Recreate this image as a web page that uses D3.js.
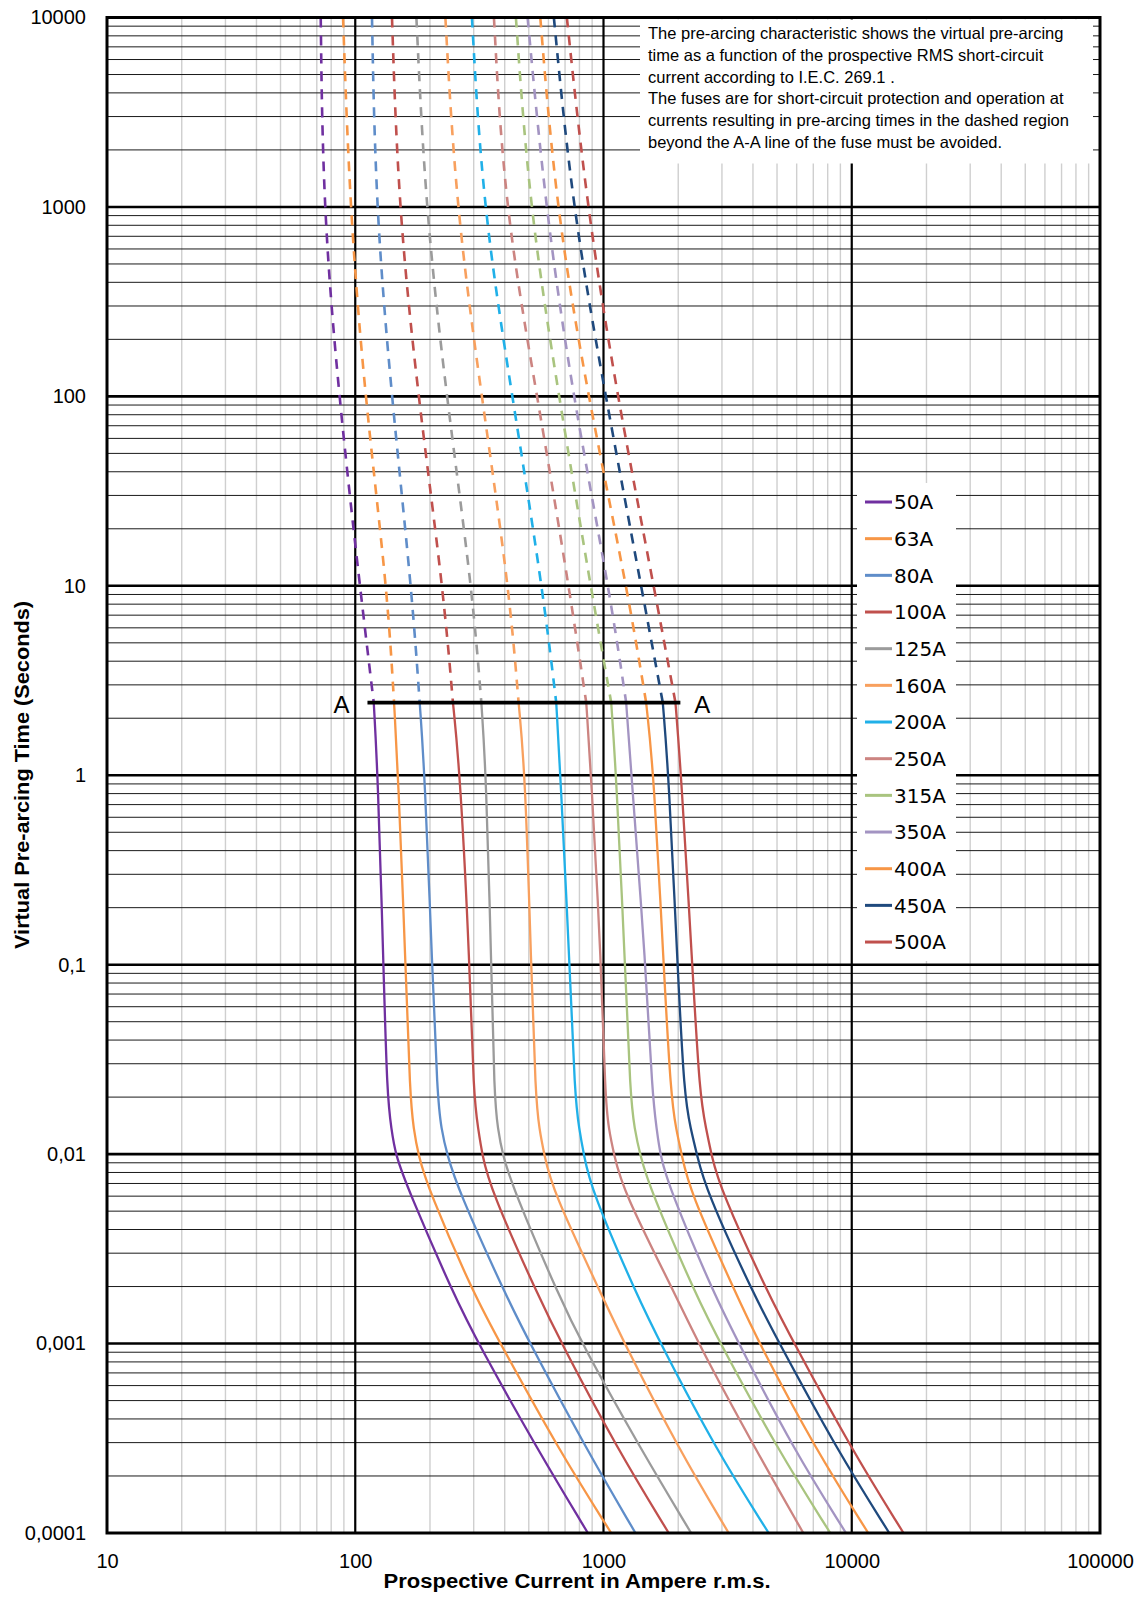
<!DOCTYPE html>
<html><head><meta charset="utf-8">
<script src="https://cdn.jsdelivr.net/npm/d3@7"></script>
<style>body{margin:0;background:#fff}</style>
</head><body>
<svg id="c" width="1141" height="1598"></svg>
<script>
// ---------- DATA ----------
const fuseNames = ["50A","63A","80A","100A","125A","160A","200A","250A","315A","350A","400A","450A","500A"];
const fuseColors = ["#7030a0","#f79646","#5f8dc9","#c0504d","#9b9b9b","#f8a05e","#20b0e8","#cc8481","#a9c47f","#a394c2","#f79646","#1f497d","#c0504d"];
// pre-arcing times (s) at which each curve was read
const timePoints = [10000, 1000, 100, 10, 2.42, 1, 0.1, 0.02, 0.0135, 0.01, 0.0065, 0.00178, 0.001, 0.000276, 0.0001];
// prospective current (A) for each fuse at those times
const i50A  = [72.6, 74.2, 85.8, 104.3, 118.7, 123.3, 129.9, 134.4, 140.0, 144.9, 163.3, 250.7, 313.2, 542, 865];
const i63A  = [89.3, 95.0, 109.2, 134.3, 143.3, 148.9, 159.5, 166.2, 172.0, 179.1, 197.2, 302.6, 384.7, 659, 1074];
const i80A  = [116.8, 120.9, 139.9, 168.4, 181.8, 190.6, 204.1, 214.2, 222.3, 234.1, 259.5, 405.2, 506, 855, 1345];
const i100A = [140.6, 149.2, 178.9, 225.6, 247.5, 264.8, 289.4, 299.6, 313.2, 324.1, 351.1, 546, 677.6, 1141, 1831];
const i125A = [176.3, 191.6, 232.8, 295.1, 322, 336.7, 353.3, 363, 375.6, 391.6, 434, 661.6, 817.9, 1416, 2254];
const i160A = [230.7, 254.5, 322.9, 415.9, 455, 484.1, 511.2, 532.5, 551.6, 576.7, 621.6, 988, 1214, 2015, 3193];
const i200A = [295.1, 326, 429.2, 566.8, 645, 670.6, 730.6, 766.6, 798.5, 832.5, 891.5, 1368, 1698, 2839, 4627];
const i250A = [361.9, 398.5, 541.1, 725.2, 852, 891.5, 980.6, 1015, 1050, 1102, 1193, 1962, 2409, 4098, 6380];
const i315A = [443.7, 502.3, 661, 886.6, 1074, 1125, 1222, 1282, 1335, 1401, 1543, 2367, 2957, 5034, 8194];
const i350A = [494.5, 582.6, 752.5, 1050, 1234, 1295, 1480, 1574, 1640, 1687, 1850, 2810, 3513, 5833, 9478];
const i400A = [556.3, 642.7, 864.8, 1241, 1485, 1597, 1746, 1869, 1962, 2064, 2211, 3451, 4241, 7163, 11650];
const i450A = [631, 748.3, 1019, 1418, 1733, 1831, 1987, 2114, 2250, 2376, 2580, 4056, 5117, 8710, 14160];
const i500A = [711.7, 856.8, 1135, 1594, 1949, 2056, 2279, 2441, 2597, 2715, 2959, 4652, 5870, 9991, 16160];
const seriesCurrents = [i50A, i63A, i80A, i100A, i125A, i160A, i200A, i250A, i315A, i350A, i400A, i450A, i500A];

const aaTime = 2.42;            // A-A line time
const aaCurrents = [112, 2040]; // A-A line extent (A)

const xTickValues = [10, 100, 1000, 10000, 100000];
const xTickLabels = ["10", "100", "1000", "10000", "100000"];
const yTickValues = [10000, 1000, 100, 10, 1, 0.1, 0.01, 0.001, 0.0001];
const yTickLabels = ["10000", "1000", "100", "10", "1", "0,1", "0,01", "0,001", "0,0001"];

const xTitle = "Prospective Current in Ampere r.m.s.";
const yTitle = "Virtual Pre-arcing Time (Seconds)";
const noteLines = [
  "The pre-arcing characteristic shows the virtual pre-arcing",
  "time as a function of the prospective RMS short-circuit",
  "current according to I.E.C. 269.1 .",
  "The fuses are for short-circuit protection and operation at",
  "currents resulting in pre-arcing times in the dashed region",
  "beyond the A-A line of the fuse must be avoided."
];

// ---------- DRAW ----------
const svg = d3.select("#c");
const pL = 107, pR = 1100, pT = 17.5, pB = 1533;
const x = d3.scaleLog().domain([10, 100000]).range([pL, pR]);
const y = d3.scaleLog().domain([0.0001, 10000]).range([pB, pT]);

const minorX = [];
[10, 100, 1000, 10000].forEach(d => { for (let m = 2; m <= 9; m++) minorX.push(d * m); });
const minorY = [];
[0.0001, 0.001, 0.01, 0.1, 1, 10, 100, 1000].forEach(d => { for (let m = 2; m <= 9; m++) minorY.push(d * m); });

const grid = svg.append("g");
grid.selectAll(".vx").data(minorX).join("line")
  .attr("x1", d => x(d)).attr("x2", d => x(d)).attr("y1", pT).attr("y2", pB)
  .attr("stroke", "#cfcfcf").attr("stroke-width", 1.4);
grid.selectAll(".hy").data(minorY).join("line")
  .attr("x1", pL).attr("x2", pR).attr("y1", d => y(d)).attr("y2", d => y(d))
  .attr("stroke", "#1a1a1a").attr("stroke-width", 1);
grid.selectAll(".mx").data([100, 1000, 10000]).join("line")
  .attr("x1", d => x(d)).attr("x2", d => x(d)).attr("y1", pT).attr("y2", pB)
  .attr("stroke", "#000").attr("stroke-width", 2.2);
grid.selectAll(".my").data([1000, 100, 10, 1, 0.1, 0.01, 0.001]).join("line")
  .attr("x1", pL).attr("x2", pR).attr("y1", d => y(d)).attr("y2", d => y(d))
  .attr("stroke", "#000").attr("stroke-width", 2.6);

// white boxes for note and legend
svg.append("rect").attr("x", 640).attr("y", 19.5).attr("width", 453).attr("height", 144).attr("fill", "#fff");
svg.append("rect").attr("x", 857).attr("y", 483).attr("width", 99).attr("height", 478).attr("fill", "#fff");

// curves (B-spline through the read points, smoothing small reading errors)
const line = d3.line().x(d => x(d[0])).y(d => y(d[1])).curve(d3.curveBasis);
const curves = svg.append("g").attr("fill", "none");
seriesCurrents.forEach((arr, k) => {
  const pts = arr.map((c, i) => [c, timePoints[i]]);
  const dashed = pts.filter(p => p[1] >= aaTime);
  const solid = pts.filter(p => p[1] <= aaTime);
  curves.append("path").attr("d", line(dashed)).attr("stroke", fuseColors[k])
    .attr("stroke-width", 2.6).attr("stroke-dasharray", "10,8");
  curves.append("path").attr("d", line(solid)).attr("stroke", fuseColors[k])
    .attr("stroke-width", 2.3);
});

// A-A line
svg.append("line").attr("x1", x(aaCurrents[0])).attr("x2", x(aaCurrents[1]))
  .attr("y1", y(aaTime)).attr("y2", y(aaTime)).attr("stroke", "#000").attr("stroke-width", 3.8);
svg.append("text").attr("x", x(aaCurrents[0]) - 26).attr("y", y(aaTime) + 10.5)
  .attr("text-anchor", "middle").attr("font-family", "Liberation Sans, Arial, sans-serif")
  .attr("font-size", 24).text("A");
svg.append("text").attr("x", x(aaCurrents[1]) + 22).attr("y", y(aaTime) + 10.5)
  .attr("text-anchor", "middle").attr("font-family", "Liberation Sans, Arial, sans-serif")
  .attr("font-size", 24).text("A");

// border
svg.append("rect").attr("x", pL).attr("y", pT).attr("width", pR - pL).attr("height", pB - pT)
  .attr("fill", "none").attr("stroke", "#000").attr("stroke-width", 3);

// axes
const xAxis = d3.axisBottom(x).tickValues(xTickValues).tickFormat((d, i) => xTickLabels[i]).tickSize(0).tickPadding(21);
const gx = svg.append("g").attr("transform", `translate(0,${pB})`).call(xAxis);
gx.select(".domain").remove();
gx.selectAll("text").attr("font-family", "Liberation Sans, Arial, sans-serif").attr("font-size", 20).attr("fill", "#000");

const yAxis = d3.axisLeft(y).tickValues(yTickValues).tickFormat((d, i) => yTickLabels[i]).tickSize(0).tickPadding(21);
const gy = svg.append("g").attr("transform", `translate(${pL},0)`).call(yAxis);
gy.select(".domain").remove();
gy.selectAll("text").attr("font-family", "Liberation Sans, Arial, sans-serif").attr("font-size", 20).attr("fill", "#000");

// axis titles
svg.append("text").attr("x", 577).attr("y", 1588).attr("text-anchor", "middle")
  .attr("font-family", "Liberation Sans, Arial, sans-serif").attr("font-weight", "bold").attr("font-size", 20)
  .attr("textLength", 387).attr("lengthAdjust", "spacingAndGlyphs").text(xTitle);
svg.append("text").attr("transform", "translate(29,775) rotate(-90)").attr("text-anchor", "middle")
  .attr("font-family", "Liberation Sans, Arial, sans-serif").attr("font-weight", "bold").attr("font-size", 20)
  .attr("textLength", 348).attr("lengthAdjust", "spacingAndGlyphs").text(yTitle);

// note text
const note = svg.append("g").attr("font-family", "Liberation Sans, Arial, sans-serif").attr("fill", "#000");
const probe = note.append("text").attr("font-size", 15).text(noteLines[4]);
const w15 = probe.node().getComputedTextLength();
probe.remove();
const noteSize = 15 * 421 / w15;
noteLines.forEach((t, i) => {
  note.append("text").attr("x", 648).attr("y", 39 + i * 21.8).attr("font-size", noteSize).text(t);
});

// legend
const legend = svg.append("g");
fuseNames.forEach((n, i) => {
  const ly = 502 + i * 36.67;
  legend.append("line").attr("x1", 865).attr("x2", 892).attr("y1", ly).attr("y2", ly)
    .attr("stroke", fuseColors[i]).attr("stroke-width", 3);
  legend.append("text").attr("x", 894).attr("y", ly + 7.3)
    .attr("font-family", "DejaVu Sans, sans-serif").attr("font-size", 20).text(n);
});
</script>
</body></html>
